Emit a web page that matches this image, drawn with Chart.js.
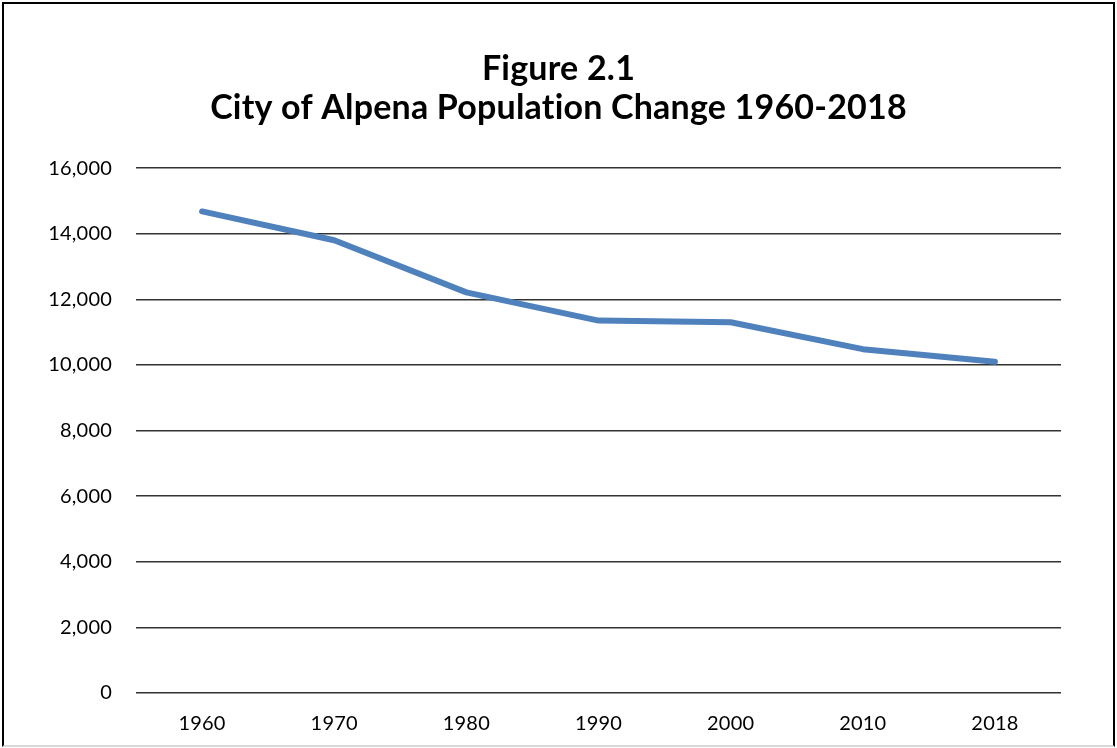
<!DOCTYPE html>
<html>
<head>
<meta charset="utf-8">
<script src="https://cdn.jsdelivr.net/npm/chart.js@4/dist/chart.umd.min.js"></script>
<style>
  html, body { margin: 0; padding: 0; background: #fff; }
  #frame {
    position: absolute; left: 2px; top: 2px; width: 1109px; height: 741px;
    border: 2px solid #000; border-bottom-color: #d9d9d9;
  }
  #chart { position: absolute; left: 0; top: 0; }
</style>
</head>
<body>
<div id="frame"></div>
<canvas id="chart" width="1117" height="748"></canvas>
<script>
const YEARS = ['1960', '1970', '1980', '1990', '2000', '2010', '2018'];
const POPULATION = [14682, 13805, 12214, 11354, 11304, 10483, 10100];
const TITLE_LINES = ['Figure 2.1', 'City of Alpena Population Change 1960-2018'];

const FONT = 'Lato, "Open Sans", sans-serif';

// tiny letter spacing keeps Lato from drawing the "ti" ligature
const noLigatures = {
    id: 'noLigatures',
    beforeDraw: (chart) => { chart.ctx.letterSpacing = '0.2px'; },
    afterDraw: (chart) => { chart.ctx.letterSpacing = '0px'; }
};

new Chart(document.querySelector('#chart'), {
    type: 'line',
    data: {
        labels: YEARS,
        datasets: [
            {
                data: POPULATION,
                borderColor: 'rgb(79, 129, 189)',
                borderWidth: 6,
                borderCapStyle: 'round',
                borderJoinStyle: 'round',
                pointRadius: 0,
                tension: 0,
                fill: false
            }
        ]
    },
    plugins: [noLigatures],
    options: {
        responsive: false,
        animation: false,
        layout: { padding: 0 },
        plugins: {
            legend: { display: false },
            tooltip: { enabled: false },
            title: {
                display: true,
                text: TITLE_LINES,
                color: '#000',
                font: { family: FONT, size: 34, weight: 'bold', lineHeight: 1.15 },
                padding: { top: 49, bottom: 41 }
            }
        },
        scales: {
            x: {
                offset: true,
                grid: { display: false },
                border: { display: false },
                ticks: {
                    color: '#000',
                    font: { family: FONT, size: 20 },
                    padding: 11,
                    autoSkip: false,
                    maxRotation: 0
                },
                afterFit: (scale) => { scale.height = 55; }
            },
            y: {
                min: 0,
                max: 16000,
                grid: { color: '#333', lineWidth: 1.5, drawTicks: false },
                border: { display: false },
                ticks: {
                    stepSize: 2000,
                    color: '#000',
                    font: { family: FONT, size: 20 },
                    padding: 24,
                    callback: (v) => v.toLocaleString('en-US')
                },
                afterFit: (scale) => { scale.width = 136; }
            },
            // empty right-hand axis, only holds the blank margin so the title stays centred
            yRight: {
                position: 'right',
                min: 0,
                max: 16000,
                grid: { display: false },
                border: { display: false },
                ticks: { display: false },
                afterFit: (scale) => { scale.width = 56; }
            }
        }
    }
});
</script>
</body>
</html>
